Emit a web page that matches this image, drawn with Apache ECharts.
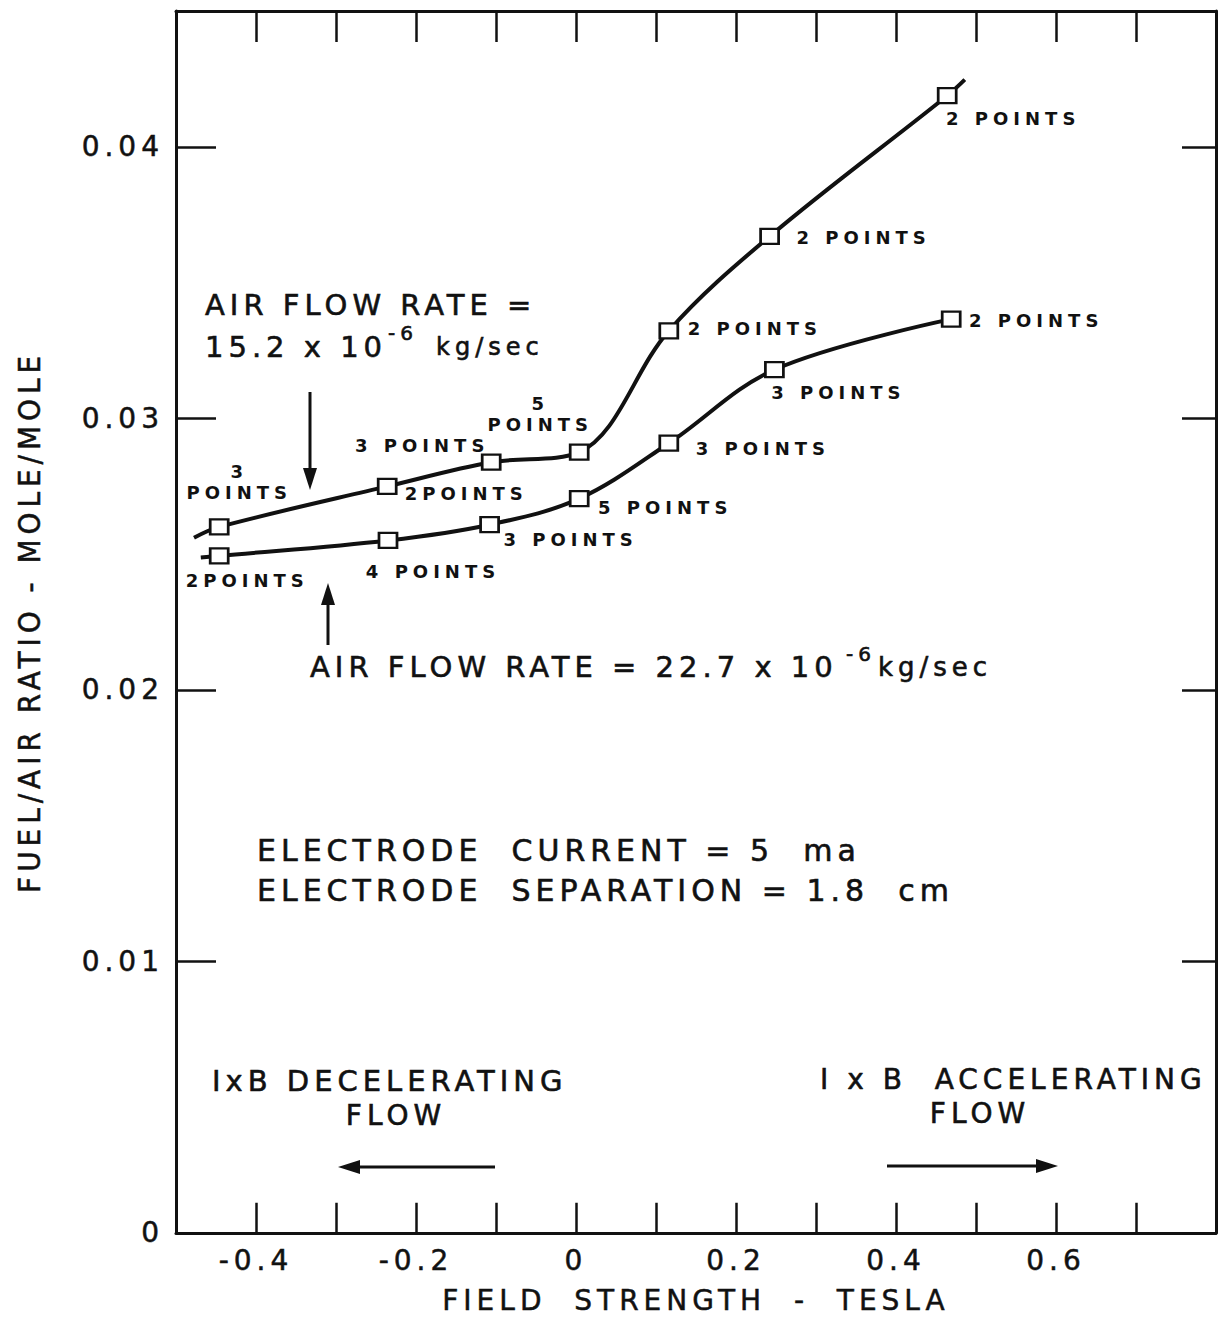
<!DOCTYPE html>
<html>
<head>
<meta charset="utf-8">
<script src="https://cdn.jsdelivr.net/npm/echarts@6/dist/echarts.min.js"></script>
<style>
  html, body { margin: 0; padding: 0; background: #ffffff; }
  #chart { width: 1225px; height: 1320px; }
  #chart svg text { letter-spacing: 5px; }
</style>
</head>
<body>
<div id="chart"></div>
<script>
// Fuel/air ratio versus field strength, air flow rate 15.2e-6 kg/sec
const field152 = [-0.446, -0.236, -0.106, 0.004, 0.116, 0.242, 0.464];
const ratio152 = [0.0260, 0.02749, 0.02838, 0.02875, 0.03322, 0.0367, 0.04188];
const count152 = ['3\nPOINTS', '2POINTS', '3 POINTS', '5\nPOINTS', '2 POINTS', '2 POINTS', '2 POINTS'];
// faired curve ends beyond the first and last points
const curveEnds152 = [[-0.4775, 0.0256], [0.486, 0.04247]];

// Fuel/air ratio versus field strength, air flow rate 22.7e-6 kg/sec
const field227 = [-0.446, -0.235, -0.108, 0.004, 0.116, 0.248, 0.469];
const ratio227 = [0.02493, 0.0255, 0.02608, 0.02704, 0.02908, 0.03179, 0.03365];
const count227 = ['2POINTS', '4 POINTS', '3 POINTS', '5 POINTS', '3 POINTS', '3 POINTS', '2 POINTS'];
const curveEnds227 = [[-0.469, 0.02487]];

// axis tick labels
const xTickValues = [-0.4, -0.2, 0, 0.2, 0.4, 0.6];
const xTickLabels = ['-0.4', '-0.2', '0', '0.2', '0.4', '0.6'];
const yTickValues = [0, 0.01, 0.02, 0.03, 0.04];
const yTickLabels = ['0', '0.01', '0.02', '0.03', '0.04'];

// where each point-count note sits relative to its marker (px)
const noteOffset152 = [[20, -45], [79, 7], [-69, -17], [-39, -38], [86, -2], [94, 1], [66, 23]];
const noteOffset227 = [[28, 25], [45, 31], [81, 15], [86, 9], [94, 5], [64, 23], [85, 1]];

const INK = '#111111';
const FONT = "'DejaVu Sans', 'Noto Sans', sans-serif";

function lookupLabel(values, labels, v) {
  for (let i = 0; i < values.length; i++) {
    if (Math.abs(values[i] - v) < 1e-6) return labels[i];
  }
  return '';
}

function curveData(xs, ys, counts, offsets, ends) {
  const pts = xs.map((x, i) => ({
    value: [x, ys[i]],
    name: counts[i],
    label: { offset: offsets[i] }
  }));
  const stub = p => ({ value: p, symbol: 'none', label: { show: false } });
  const out = [stub(ends[0])].concat(pts);
  if (ends.length > 1) out.push(stub(ends[1]));
  return out;
}

function curveSeries(name, data) {
  return {
    name: name,
    type: 'line',
    smooth: 0.35,
    data: data,
    symbol: 'rect',
    symbolSize: [18, 15],
    showAllSymbol: true,
    lineStyle: { color: INK, width: 4 },
    itemStyle: { color: '#ffffff', borderColor: INK, borderWidth: 2.5 },
    label: {
      show: true,
      position: 'inside',
      formatter: p => p.name,
      color: INK,
      fontFamily: FONT,
      fontWeight: 'bold',
      fontSize: 18,
      lineHeight: 21,
      align: 'center',
      verticalAlign: 'middle'
    },
    emphasis: { disabled: true },
    z: 3
  };
}

const chart = echarts.init(document.getElementById('chart'), null, { renderer: 'svg' });

const axisLine = { show: true, onZero: false, lineStyle: { color: INK, width: 3 } };
const tickStyle = { color: INK, width: 2.5 };
const heavy = { textBorderColor: INK, textBorderWidth: 0.5 };

function bigText(x, y, text, size, align) {
  return {
    type: 'text', x: x, y: y, silent: true,
    style: {
      text: text, fill: INK, stroke: INK, lineWidth: 0.6,
      fontFamily: FONT, fontSize: size || 29,
      align: align || 'left', verticalAlign: 'middle'
    }
  };
}
function arrow(x1, y1, x2, y2) {
  // shaft from (x1,y1) to the tip (x2,y2) with a solid head
  const dx = x2 - x1, dy = y2 - y1, len = Math.hypot(dx, dy);
  const ux = dx / len, uy = dy / len, hl = 22, hw = 7;
  const bx = x2 - ux * hl, by = y2 - uy * hl;
  return [
    { type: 'line', silent: true, shape: { x1: x1, y1: y1, x2: bx, y2: by },
      style: { stroke: INK, lineWidth: 3 } },
    { type: 'polygon', silent: true,
      shape: { points: [[x2, y2], [bx - uy * hw, by + ux * hw], [bx + uy * hw, by - ux * hw]] },
      style: { fill: INK } }
  ];
}

const option = {
  backgroundColor: '#ffffff',
  animation: false,
  grid: { left: 176, top: 11, width: 1040, height: 1225, containLabel: false },
  xAxis: [
    {
      type: 'value', position: 'bottom', min: -0.5, max: 0.8, interval: 0.1,
      name: 'FIELD  STRENGTH  -  TESLA', nameLocation: 'middle', nameGap: 54,
      nameTextStyle: Object.assign({ color: INK, fontFamily: FONT, fontSize: 28 }, heavy),
      axisLine: axisLine,
      axisTick: { show: true, inside: true, length: 30, lineStyle: tickStyle },
      axisLabel: Object.assign({
        color: INK, fontFamily: FONT, fontSize: 28, margin: 14,
        formatter: v => lookupLabel(xTickValues, xTickLabels, v)
      }, heavy),
      splitLine: { show: false }
    },
    {
      type: 'value', position: 'top', min: -0.5, max: 0.8, interval: 0.1,
      axisLine: axisLine,
      axisTick: { show: true, inside: true, length: 31, lineStyle: tickStyle },
      axisLabel: { show: false },
      splitLine: { show: false }
    }
  ],
  yAxis: [
    {
      type: 'value', position: 'left', min: 0, max: 0.045, interval: 0.01,
      name: 'FUEL/AIR RATIO - MOLE/MOLE', nameLocation: 'middle', nameGap: 132, nameRotate: 90,
      nameTextStyle: Object.assign({
        color: INK, fontSize: 31,
        fontFamily: "'DejaVu Sans Condensed', 'Liberation Sans Narrow', 'Roboto Condensed', 'DejaVu Sans', sans-serif"
      }, heavy),
      axisLine: axisLine,
      axisTick: { show: true, inside: true, length: 40, lineStyle: tickStyle },
      axisLabel: Object.assign({
        color: INK, fontFamily: FONT, fontSize: 28, margin: 12, showMaxLabel: false,
        formatter: v => lookupLabel(yTickValues, yTickLabels, v)
      }, heavy),
      splitLine: { show: false }
    },
    {
      type: 'value', position: 'right', min: 0, max: 0.045, interval: 0.01,
      axisLine: axisLine,
      axisTick: { show: true, inside: true, length: 34, lineStyle: tickStyle },
      axisLabel: { show: false },
      splitLine: { show: false }
    }
  ],
  series: [
    curveSeries('15.2e-6 kg/sec', curveData(field152, ratio152, count152, noteOffset152, curveEnds152)),
    curveSeries('22.7e-6 kg/sec', curveData(field227, ratio227, count227, noteOffset227, [curveEnds227[0]]))
  ],
  graphic: [
    bigText(205, 305, 'AIR FLOW RATE ='),
    bigText(205, 347, '15.2 x 10'),
    bigText(388, 333, '-6', 20),
    bigText(436, 347, 'kg/sec', 24),
    ...arrow(310, 392, 310, 490),
    ...arrow(328, 645, 328, 583),
    bigText(310, 667, 'AIR FLOW RATE = 22.7 x 10'),
    bigText(846, 654, '-6', 20),
    bigText(878, 667, 'kg/sec', 26),
    bigText(257, 850, 'ELECTRODE  CURRENT = 5  ma', 30),
    bigText(257, 890, 'ELECTRODE  SEPARATION = 1.8  cm', 30),
    bigText(212, 1081, 'IxB DECELERATING'),
    bigText(396, 1115, 'FLOW', 28, 'center'),
    ...arrow(495, 1167, 338, 1167),
    bigText(820, 1079, 'I x B  ACCELERATING', 28),
    bigText(980, 1113, 'FLOW', 28, 'center'),
    ...arrow(887, 1166, 1058, 1166)
  ]
};

chart.setOption(option);
</script>
</body>
</html>
